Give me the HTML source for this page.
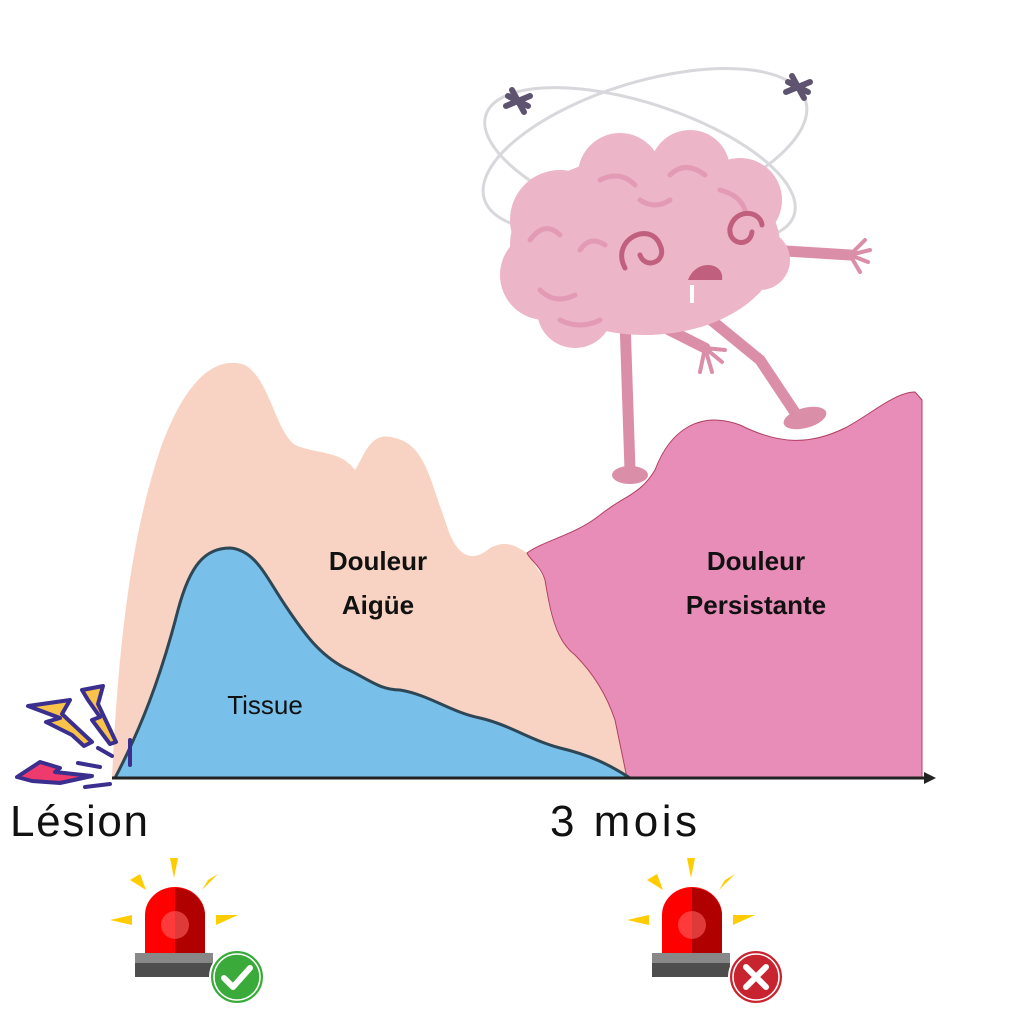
<!DOCTYPE html>
<html><head><meta charset="utf-8"><style>
html,body{margin:0;padding:0;background:#fff;}
svg{display:block}
text{font-family:"Liberation Sans",sans-serif}
</style></head><body>
<svg width="1024" height="1024" viewBox="0 0 1024 1024" xmlns="http://www.w3.org/2000/svg">
<path d="M112,778 C118,650 130,540 160,450 C185,380 215,355 245,365 C270,380 275,430 295,445 C320,455 340,450 355,470 C365,455 370,430 395,438 C425,445 430,480 445,520 C455,555 470,565 490,548 C505,540 515,545 527,553 L545,580 C548,610 555,640 575,655 C590,670 605,690 615,720 L628,778 Z" fill="#f8d3c3"/>
<path d="M627,778 L615,720 C605,690 590,670 575,655 C555,640 550,610 545,580 C540,565 530,560 527,553 C545,540 575,535 600,515 C625,495 640,495 655,470 C670,430 700,410 740,425 C780,445 810,445 845,428 C870,415 895,392 915,392 L922,400 L922,778 Z" fill="#e88db8" stroke="#b04060" stroke-width="1"/>
<path d="M115,778 C140,730 160,680 178,610 C190,565 205,548 230,548 C255,550 265,575 285,605 C305,635 320,655 345,668 C370,680 380,690 400,690 C430,695 450,712 480,718 C510,725 530,740 560,748 C590,755 610,765 630,778 Z" fill="#78c0ea" stroke="#2d4756" stroke-width="3"/>
<line x1="112" y1="778" x2="928" y2="778" stroke="#222" stroke-width="3"/>
<polygon points="936,778 924,772 924,784" fill="#222"/>
<text x="378" y="570" font-size="26" font-weight="bold" text-anchor="middle" fill="#111">Douleur</text>
<text x="378" y="614" font-size="26" font-weight="bold" text-anchor="middle" fill="#111">Aigüe</text>
<text x="756" y="570" font-size="26" font-weight="bold" text-anchor="middle" fill="#111">Douleur</text>
<text x="756" y="614" font-size="26" font-weight="bold" text-anchor="middle" fill="#111">Persistante</text>
<text x="265" y="714" font-size="26" text-anchor="middle" fill="#111">Tissue</text>
<text x="10" y="836" font-size="44" fill="#111" textLength="138">Lésion</text>
<text x="550" y="836" font-size="44" fill="#111" textLength="147">3 mois</text>
<!-- lightning -->
<g stroke="#3a2f8f" stroke-width="4" stroke-linejoin="round" stroke-linecap="round">
<polygon points="28,706 70,700 62,714 92,742 84,746 72,735 46,722 60,718" fill="#f9c24a"/>
<polygon points="82,690 103,686 98,704 116,742 110,744 92,720 100,717 88,700" fill="#f9c24a"/>
<polygon points="17,777 40,762 60,768 55,772 92,776 60,783 32,781" fill="#ee3a6c"/>
<line x1="98" y1="748" x2="112" y2="756" fill="none"/>
<line x1="78" y1="763" x2="100" y2="767" fill="none"/>
<line x1="85" y1="787" x2="110" y2="784" fill="none"/>
<line x1="130" y1="740" x2="130" y2="765" fill="none"/>
</g>
<!-- orbits -->
<g fill="none" stroke="#d8d8dc" stroke-width="3">
<ellipse cx="645" cy="150" rx="168" ry="68" transform="rotate(-17 645 150)"/>
<ellipse cx="640" cy="165" rx="162" ry="62" transform="rotate(18 640 165)"/>
</g>
<g stroke="#5e5470" stroke-width="6" stroke-linecap="round">
<path d="M512,90 L524,112 M506,106 L530,96 M508,96 L528,106"/>
<path d="M792,76 L804,98 M786,92 L810,82 M788,82 L808,92"/>
</g>
<!-- limbs -->
<g stroke="#db8ea8" stroke-width="11" stroke-linecap="round" fill="none">
<path d="M625,320 L630,470"/>
<path d="M705,315 L760,360 L800,420"/>
<path d="M600,295 L705,348"/>
<path d="M770,250 L850,255"/>
</g>
<g stroke="#db8ea8" stroke-width="4" stroke-linecap="round">
<path d="M705,348 L725,350 M705,348 L722,362 M705,348 L712,372 M705,348 L700,372"/>
<path d="M850,255 L865,240 M850,255 L870,250 M850,255 L868,262 M850,255 L860,272"/>
</g>
<ellipse cx="630" cy="475" rx="18" ry="9" fill="#db8ea8"/>
<ellipse cx="805" cy="418" rx="22" ry="10" fill="#db8ea8" transform="rotate(-15 805 418)"/>
<!-- brain -->
<g fill="#ecb5c8">
<ellipse cx="645" cy="245" rx="135" ry="90"/>
<circle cx="560" cy="220" r="50"/><circle cx="620" cy="175" r="42"/><circle cx="690" cy="170" r="40"/>
<circle cx="740" cy="200" r="42"/><circle cx="545" cy="275" r="45"/><circle cx="575" cy="310" r="38"/>
<circle cx="760" cy="260" r="30"/><circle cx="650" cy="305" r="30"/>
</g>
<g fill="none" stroke="#e39ab5" stroke-width="5" stroke-linecap="round">
<path d="M530,240 q15,-20 30,-5"/><path d="M600,180 q20,-10 35,5"/><path d="M670,175 q15,-15 35,0"/>
<path d="M540,290 q15,15 35,5"/><path d="M580,250 q10,-15 25,-5"/><path d="M720,190 q20,5 25,20"/>
<path d="M560,320 q20,10 40,0"/><path d="M640,200 q15,10 30,0"/>
</g>
<g fill="none" stroke="#c0607e" stroke-width="5" stroke-linecap="round">
<path d="M625,268 C610,240 650,220 660,245 C668,262 645,270 640,255"/>
<path d="M762,225 C760,210 735,208 730,228 C728,245 750,248 752,232"/>
</g>
<path d="M688,280 C696,258 725,262 722,280 Z" fill="#c0607e"/>
<rect x="690" y="285" width="4" height="18" fill="#fff"/>
<!-- alarms -->
<g id="al">
<g fill="#ffcc00">
<polygon points="170,858 178,858 174,878"/>
<polygon points="130,880 140,874 146,890"/>
<polygon points="218,874 208,880 202,890"/>
<polygon points="110,920 132,915 132,925"/>
<polygon points="238,915 216,915 216,925"/>
</g>
<path d="M145,953 L145,915 A30,28 0 0 1 205,915 L205,953 Z" fill="#ff0000"/>
<path d="M175,888 A30,28 0 0 1 205,915 L205,953 L175,953 Z" fill="#b00000"/>
<circle cx="175" cy="925" r="14" fill="#ff6060" opacity="0.6"/>
<rect x="135" y="953" width="78" height="10" fill="#888"/>
<rect x="135" y="963" width="78" height="14" fill="#4d4d4d"/>
</g>
<circle cx="237" cy="977" r="27" fill="#3aab3a" stroke="#fff" stroke-width="2"/>
<circle cx="237" cy="977" r="23" fill="none" stroke="#fff" stroke-width="1.5"/>
<path d="M224,978 L233,987 L250,968" fill="none" stroke="#fff" stroke-width="6" stroke-linecap="round" stroke-linejoin="round"/>
<use href="#al" x="517" y="0"/>
<circle cx="756" cy="977" r="27" fill="#c8242f" stroke="#fff" stroke-width="2"/>
<circle cx="756" cy="977" r="23" fill="none" stroke="#fff" stroke-width="1.5"/>
<path d="M746,967 L766,987 M766,967 L746,987" stroke="#fff" stroke-width="6" stroke-linecap="round"/>
</svg>
</body></html>
